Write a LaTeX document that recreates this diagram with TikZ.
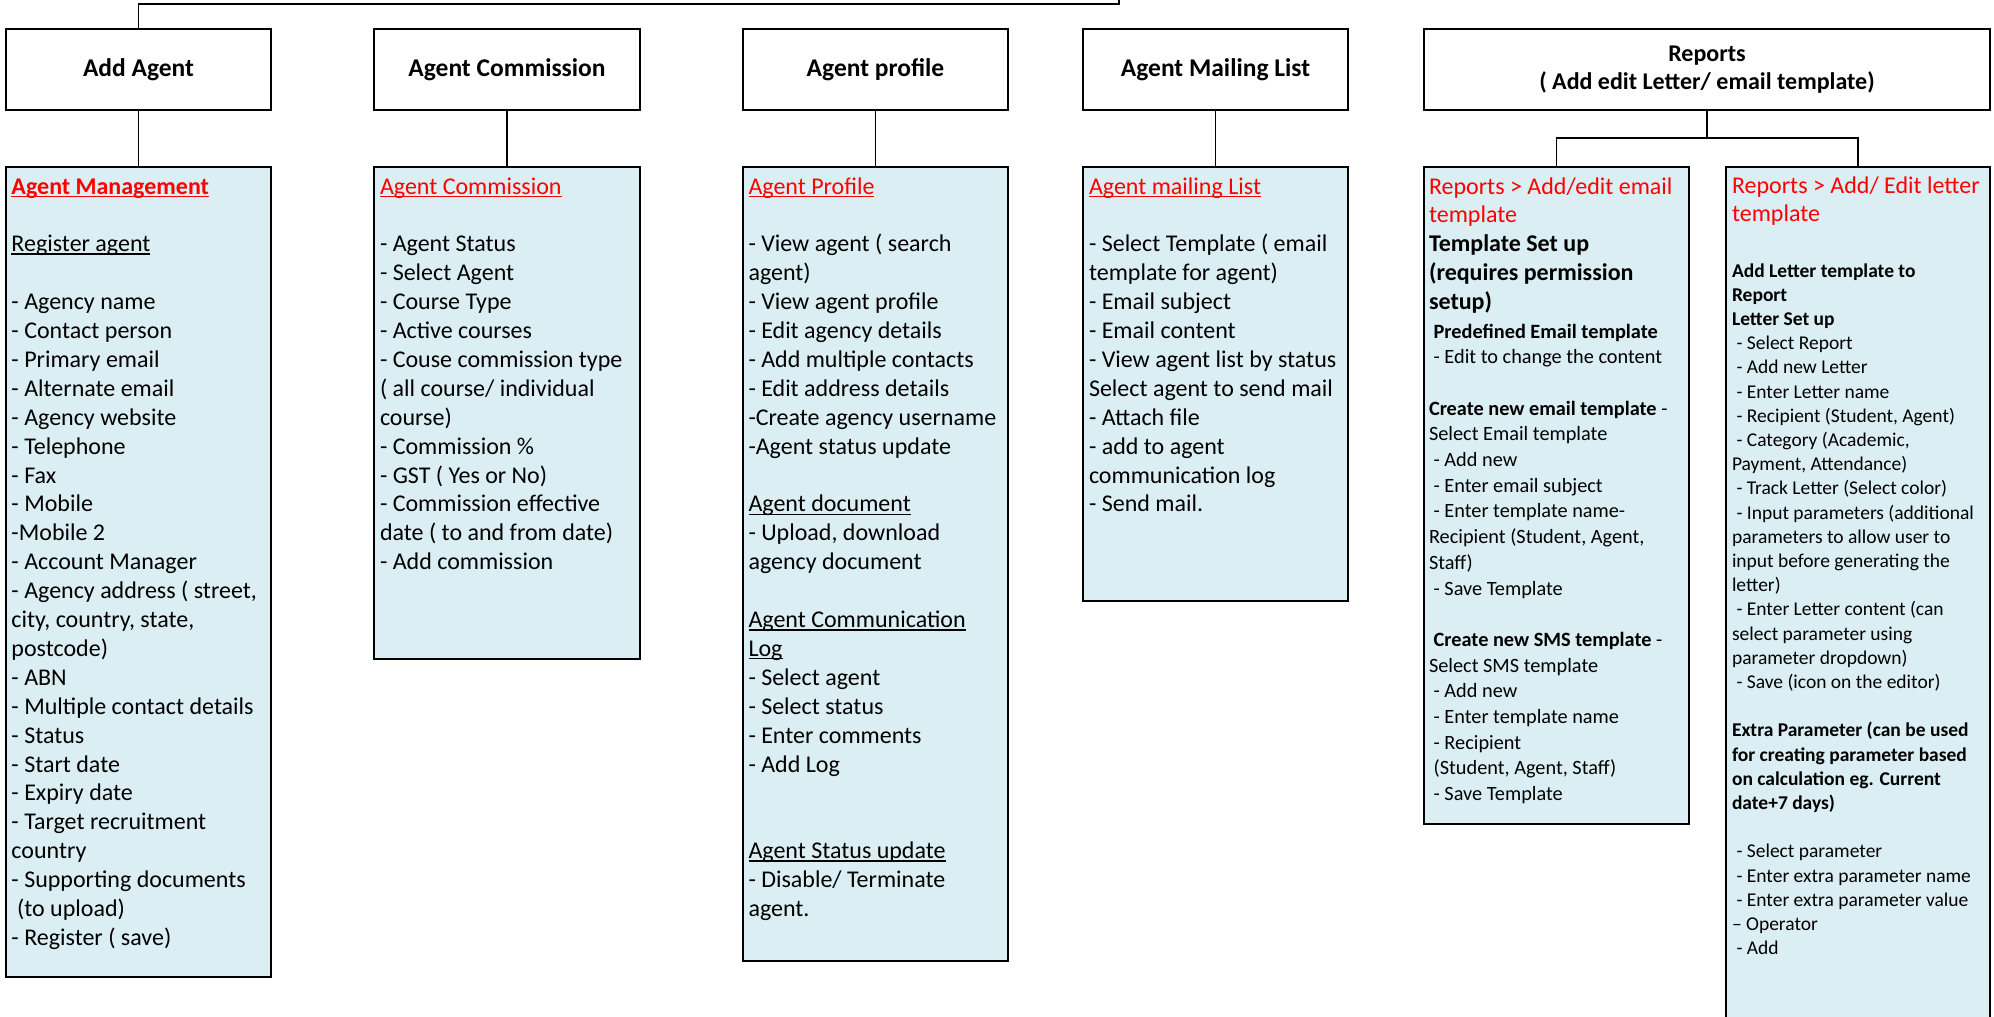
\documentclass[tikz,border=0pt]{standalone}
\usepackage{fontspec}
\setmainfont{Carlito}
\definecolor{boxblue}{RGB}{218,238,243}
\definecolor{tred}{RGB}{255,0,0}
\newcommand\myul[1]{\leavevmode\setbox0\hbox{#1}\rlap{\rule[-3pt]{\wd0}{1.4pt}}\box0}
\newcommand\ind{\leavevmode\hspace*{0.23em}}
\newcommand\fsA{\fontsize{24}{28.9}\selectfont}
\newcommand\fsB{\fontsize{20.3}{25.7}\selectfont}
\newcommand\fsC{\fontsize{19.5}{24.2}\selectfont}
\begin{document}
\begin{tikzpicture}[x=1pt,y=-1pt,
  hdr/.style={draw=black,line width=2pt,fill=white,inner sep=0pt,align=center,font=\fontsize{25.5}{30}\selectfont\bfseries,minimum height=81pt,anchor=north west},
  lbox/.style={draw=black,line width=2pt,fill=boxblue,inner sep=0pt,anchor=north west},
  conn/.style={draw=black,line width=1.5pt},
  txt/.style={anchor=base west,inner sep=0pt,outer sep=0pt}]
\useasboundingbox (0,0) rectangle (1994,1017);
\fill[white] (0,0) rectangle (1994,1017);

% header boxes
\node[hdr,minimum width=265pt] (hAdd) at (5,28) {Add Agent};
\node[hdr,minimum width=266pt] (hCom) at (373,28) {Agent Commission};
\node[hdr,minimum width=265pt] (hProf) at (742,28) {Agent profile};
\node[hdr,minimum width=265pt] (hMail) at (1082,28) {Agent Mailing List};
\node[hdr,minimum width=566pt,font=\fontsize{24}{28}\selectfont\bfseries] (hRep) at (1423,28) {Reports\\( Add edit Letter/ email template)};

% lower boxes
\node[lbox,minimum width=265pt,minimum height=810pt] (bAdd) at (5,166) {};
\node[lbox,minimum width=266pt,minimum height=492pt] (bCom) at (373,166) {};
\node[lbox,minimum width=265pt,minimum height=794pt] (bProf) at (742,166) {};
\node[lbox,minimum width=265pt,minimum height=434pt] (bMail) at (1082,166) {};
\node[lbox,minimum width=265pt,minimum height=657pt] (bEmail) at (1423,166) {};
\node[lbox,minimum width=264pt,minimum height=880pt] (bLet) at (1725,166) {};

% connectors
\coordinate (bend) at (1119,4);
\coordinate (topA) at (1119,-3);
\draw[conn] (hAdd.north) |- (bend) -- (topA);
\draw[conn] (hAdd.south) -- (bAdd.north);
\draw[conn] (hCom.south) -- (bCom.north);
\draw[conn] (hProf.south) -- (bProf.north);
\draw[conn] (hMail.south) -- (bMail.north);
\coordinate (jR) at (1706,138);
\draw[conn] (hRep.south) -- (hRep.south |- jR);
\draw[conn] (bEmail.north) -- (bEmail.north |- jR) -- (bLet.north |- jR) -- (bLet.north);

% texts
\node[txt] (tAdd) at (11.5,194) {\parbox[t]{300pt}{\fsA\raggedright
\textcolor{tred}{\myul{\bfseries Agent Management}}\\
\mbox{}\\
\myul{Register agent}\\
\mbox{}\\
- Agency name\\
- Contact person\\
- Primary email\\
- Alternate email\\
- Agency website\\
- Telephone\\
- Fax\\
- Mobile\\
-Mobile 2\\
- Account Manager\\
- Agency address ( street,\\
city, country, state,\\
postcode)\\
- ABN\\
- Multiple contact details\\
- Status\\
- Start date\\
- Expiry date\\
- Target recruitment\\
country\\
- Supporting documents\\
\ind(to upload)\\
- Register ( save)}};

\node[txt] (tCom) at (380,194) {\parbox[t]{300pt}{\fsA\raggedright
\textcolor{tred}{\myul{Agent Commission}}\\
\mbox{}\\
- Agent Status\\
- Select Agent\\
- Course Type\\
- Active courses\\
- Couse commission type\\
( all course/ individual\\
course)\\
- Commission \%\\
- GST ( Yes or No)\\
- Commission effective\\
date ( to and from date)\\
- Add commission}};

\node[txt] (tProf) at (748.5,194) {\parbox[t]{300pt}{\fsA\raggedright
\textcolor{tred}{\myul{Agent Profile}}\\
\mbox{}\\
- View agent ( search\\
agent)\\
- View agent profile\\
- Edit agency details\\
- Add multiple contacts\\
- Edit address details\\
-Create agency username\\
-Agent status update\\
\mbox{}\\
\myul{Agent document}\\
- Upload, download\\
agency document\\
\mbox{}\\
\myul{Agent Communication}\\
\myul{Log}\\
- Select agent\\
- Select status\\
- Enter comments\\
- Add Log\\
\mbox{}\\
\mbox{}\\
\myul{Agent Status update}\\
- Disable/ Terminate\\
agent.}};

\node[txt] (tMail) at (1089,194) {\parbox[t]{300pt}{\fsA\raggedright
\textcolor{tred}{\myul{Agent mailing List}}\\
\mbox{}\\
- Select Template ( email\\
template for agent)\\
- Email subject\\
- Email content\\
- View agent list by status\\
Select agent to send mail\\
- Attach file\\
- add to agent\\
communication log\\
- Send mail.}};

\node[txt] (tEmailA) at (1429,194) {\parbox[t]{300pt}{\fsA\raggedright
\textcolor{tred}{Reports > Add/edit email}\\
\textcolor{tred}{template}\\
\textbf{Template Set up}\\
\textbf{(requires permission}\\
\textbf{setup)}}};

\node[txt] (tEmailB) at (1429,338) {\parbox[t]{300pt}{\fsB\raggedright
\ind\textbf{Predefined Email template}\\
\ind- Edit to change the content\\
\mbox{}\\
\textbf{Create new email template} -\\
Select Email template\\
\ind- Add new\\
\ind- Enter email subject\\
\ind- Enter template name-\\
Recipient (Student, Agent,\\
Staff)\\
\ind- Save Template\\
\mbox{}\\
\ind\textbf{Create new SMS template} -\\
Select SMS template\\
\ind- Add new\\
\ind- Enter template name\\
\ind- Recipient\\
\ind(Student, Agent, Staff)\\
\ind- Save Template}};

\node[txt] (tLetA) at (1732,193) {\parbox[t]{300pt}{\fontsize{24}{28.7}\selectfont\raggedright
\textcolor{tred}{Reports > Add/ Edit letter}\\
\textcolor{tred}{template}}};

\node[txt] (tLetB) at (1732,277) {\parbox[t]{300pt}{\fsC\raggedright
\textbf{Add Letter template to}\\
\textbf{Report}\\
\textbf{Letter Set up}\\
\ind- Select Report\\
\ind- Add new Letter\\
\ind- Enter Letter name\\
\ind- Recipient (Student, Agent)\\
\ind- Category (Academic,\\
Payment, Attendance)\\
\ind- Track Letter (Select color)\\
\ind- Input parameters (additional\\
parameters to allow user to\\
input before generating the\\
letter)\\
\ind- Enter Letter content (can\\
select parameter using\\
parameter dropdown)\\
\ind- Save (icon on the editor)\\
\mbox{}\\
\textbf{Extra Parameter (can be used}\\
\textbf{for creating parameter based}\\
\textbf{on calculation eg. Current}\\
\textbf{date+7 days)}\\
\mbox{}\\
\ind- Select parameter\\
\ind- Enter extra parameter name\\
\ind- Enter extra parameter value\\
– Operator\\
\ind- Add}};
\end{tikzpicture}
\end{document}
